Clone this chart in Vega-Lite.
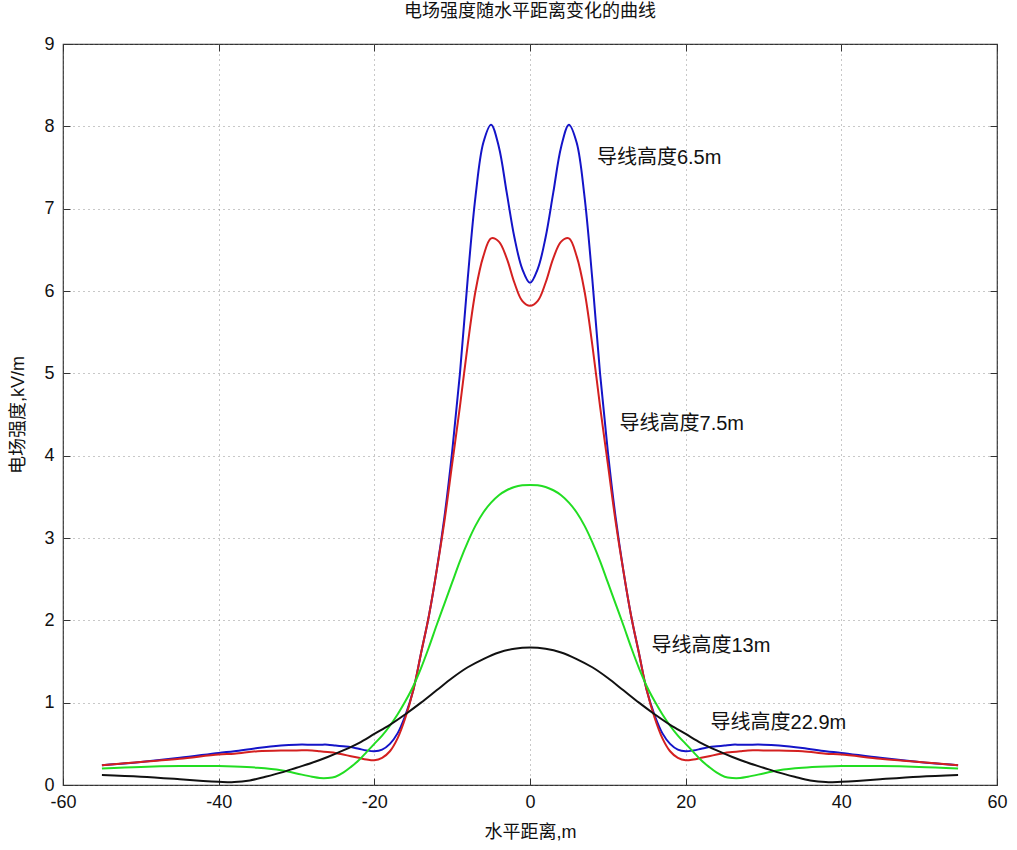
{
  "$schema": "https://vega.github.io/schema/vega-lite/v6.json",
  "autosize": "none",
  "width": 934,
  "height": 741,
  "padding": {"left": 63, "top": 44, "right": 20, "bottom": 65},
  "background": "white",
  "config": {
    "font": "Liberation Sans, Noto Sans CJK SC",
    "view": {"stroke": "#333", "strokeWidth": 1.2}
  },
  "title": {"text": "电场强度随水平距离变化的曲线", "fontSize": 18, "fontWeight": "normal", "font": "Liberation Sans, Noto Sans CJK SC", "offset": 14, "color": "#111"},
  "datasets": {
    "curves": [
      {"x": -55, "E": 0.24, "h": "6.5m"}, {"x": -50, "E": 0.28, "h": "6.5m"}, {"x": -45, "E": 0.33, "h": "6.5m"}, {"x": -40, "E": 0.39, "h": "6.5m"}, {"x": -38, "E": 0.41, "h": "6.5m"}, {"x": -35, "E": 0.45, "h": "6.5m"}, {"x": -32, "E": 0.48, "h": "6.5m"}, {"x": -30, "E": 0.49, "h": "6.5m"}, {"x": -28, "E": 0.49, "h": "6.5m"}, {"x": -27, "E": 0.49, "h": "6.5m"}, {"x": -26, "E": 0.49, "h": "6.5m"}, {"x": -25, "E": 0.48, "h": "6.5m"}, {"x": -24, "E": 0.47, "h": "6.5m"}, {"x": -23, "E": 0.46, "h": "6.5m"}, {"x": -22, "E": 0.44, "h": "6.5m"}, {"x": -21, "E": 0.42, "h": "6.5m"}, {"x": -20, "E": 0.41, "h": "6.5m"}, {"x": -19, "E": 0.43, "h": "6.5m"}, {"x": -18, "E": 0.5, "h": "6.5m"}, {"x": -17, "E": 0.63, "h": "6.5m"}, {"x": -16, "E": 0.85, "h": "6.5m"}, {"x": -15, "E": 1.15, "h": "6.5m"}, {"x": -14, "E": 1.6, "h": "6.5m"}, {"x": -13, "E": 2.05, "h": "6.5m"}, {"x": -12, "E": 2.6, "h": "6.5m"}, {"x": -11, "E": 3.25, "h": "6.5m"}, {"x": -10, "E": 4.05, "h": "6.5m"}, {"x": -9, "E": 5.0, "h": "6.5m"}, {"x": -8, "E": 6.15, "h": "6.5m"}, {"x": -7, "E": 7.15, "h": "6.5m"}, {"x": -6, "E": 7.8, "h": "6.5m"}, {"x": -5, "E": 8.02, "h": "6.5m"}, {"x": -4, "E": 7.75, "h": "6.5m"}, {"x": -3, "E": 7.2, "h": "6.5m"}, {"x": -2, "E": 6.65, "h": "6.5m"}, {"x": -1, "E": 6.27, "h": "6.5m"}, {"x": 0, "E": 6.1, "h": "6.5m"}, {"x": 1, "E": 6.27, "h": "6.5m"}, {"x": 2, "E": 6.65, "h": "6.5m"}, {"x": 3, "E": 7.2, "h": "6.5m"}, {"x": 4, "E": 7.75, "h": "6.5m"}, {"x": 5, "E": 8.02, "h": "6.5m"}, {"x": 6, "E": 7.8, "h": "6.5m"}, {"x": 7, "E": 7.15, "h": "6.5m"}, {"x": 8, "E": 6.15, "h": "6.5m"}, {"x": 9, "E": 5.0, "h": "6.5m"}, {"x": 10, "E": 4.05, "h": "6.5m"}, {"x": 11, "E": 3.25, "h": "6.5m"}, {"x": 12, "E": 2.6, "h": "6.5m"}, {"x": 13, "E": 2.05, "h": "6.5m"}, {"x": 14, "E": 1.6, "h": "6.5m"}, {"x": 15, "E": 1.15, "h": "6.5m"}, {"x": 16, "E": 0.85, "h": "6.5m"}, {"x": 17, "E": 0.63, "h": "6.5m"}, {"x": 18, "E": 0.5, "h": "6.5m"}, {"x": 19, "E": 0.43, "h": "6.5m"}, {"x": 20, "E": 0.41, "h": "6.5m"}, {"x": 21, "E": 0.42, "h": "6.5m"}, {"x": 22, "E": 0.44, "h": "6.5m"}, {"x": 23, "E": 0.46, "h": "6.5m"}, {"x": 24, "E": 0.47, "h": "6.5m"}, {"x": 25, "E": 0.48, "h": "6.5m"}, {"x": 26, "E": 0.49, "h": "6.5m"}, {"x": 27, "E": 0.49, "h": "6.5m"}, {"x": 28, "E": 0.49, "h": "6.5m"}, {"x": 30, "E": 0.49, "h": "6.5m"}, {"x": 32, "E": 0.48, "h": "6.5m"}, {"x": 35, "E": 0.45, "h": "6.5m"}, {"x": 38, "E": 0.41, "h": "6.5m"}, {"x": 40, "E": 0.39, "h": "6.5m"}, {"x": 45, "E": 0.33, "h": "6.5m"}, {"x": 50, "E": 0.28, "h": "6.5m"}, {"x": 55, "E": 0.24, "h": "6.5m"},

      {"x": -55, "E": 0.24, "h": "7.5m"}, {"x": -50, "E": 0.28, "h": "7.5m"}, {"x": -45, "E": 0.32, "h": "7.5m"}, {"x": -40, "E": 0.37, "h": "7.5m"}, {"x": -38, "E": 0.38, "h": "7.5m"}, {"x": -35, "E": 0.41, "h": "7.5m"}, {"x": -32, "E": 0.42, "h": "7.5m"}, {"x": -30, "E": 0.42, "h": "7.5m"}, {"x": -28, "E": 0.42, "h": "7.5m"}, {"x": -27, "E": 0.41, "h": "7.5m"}, {"x": -26, "E": 0.4, "h": "7.5m"}, {"x": -25, "E": 0.39, "h": "7.5m"}, {"x": -24, "E": 0.37, "h": "7.5m"}, {"x": -23, "E": 0.35, "h": "7.5m"}, {"x": -22, "E": 0.33, "h": "7.5m"}, {"x": -21, "E": 0.31, "h": "7.5m"}, {"x": -20, "E": 0.3, "h": "7.5m"}, {"x": -19, "E": 0.33, "h": "7.5m"}, {"x": -18, "E": 0.41, "h": "7.5m"}, {"x": -17, "E": 0.57, "h": "7.5m"}, {"x": -16, "E": 0.82, "h": "7.5m"}, {"x": -15, "E": 1.15, "h": "7.5m"}, {"x": -14, "E": 1.6, "h": "7.5m"}, {"x": -13, "E": 2.05, "h": "7.5m"}, {"x": -12, "E": 2.6, "h": "7.5m"}, {"x": -11, "E": 3.2, "h": "7.5m"}, {"x": -10, "E": 3.9, "h": "7.5m"}, {"x": -9, "E": 4.6, "h": "7.5m"}, {"x": -8, "E": 5.35, "h": "7.5m"}, {"x": -7, "E": 6.0, "h": "7.5m"}, {"x": -6, "E": 6.42, "h": "7.5m"}, {"x": -5, "E": 6.64, "h": "7.5m"}, {"x": -4, "E": 6.6, "h": "7.5m"}, {"x": -3, "E": 6.4, "h": "7.5m"}, {"x": -2, "E": 6.1, "h": "7.5m"}, {"x": -1, "E": 5.88, "h": "7.5m"}, {"x": 0, "E": 5.82, "h": "7.5m"}, {"x": 1, "E": 5.88, "h": "7.5m"}, {"x": 2, "E": 6.1, "h": "7.5m"}, {"x": 3, "E": 6.4, "h": "7.5m"}, {"x": 4, "E": 6.6, "h": "7.5m"}, {"x": 5, "E": 6.64, "h": "7.5m"}, {"x": 6, "E": 6.42, "h": "7.5m"}, {"x": 7, "E": 6.0, "h": "7.5m"}, {"x": 8, "E": 5.35, "h": "7.5m"}, {"x": 9, "E": 4.6, "h": "7.5m"}, {"x": 10, "E": 3.9, "h": "7.5m"}, {"x": 11, "E": 3.2, "h": "7.5m"}, {"x": 12, "E": 2.6, "h": "7.5m"}, {"x": 13, "E": 2.05, "h": "7.5m"}, {"x": 14, "E": 1.6, "h": "7.5m"}, {"x": 15, "E": 1.15, "h": "7.5m"}, {"x": 16, "E": 0.82, "h": "7.5m"}, {"x": 17, "E": 0.57, "h": "7.5m"}, {"x": 18, "E": 0.41, "h": "7.5m"}, {"x": 19, "E": 0.33, "h": "7.5m"}, {"x": 20, "E": 0.3, "h": "7.5m"}, {"x": 21, "E": 0.31, "h": "7.5m"}, {"x": 22, "E": 0.33, "h": "7.5m"}, {"x": 23, "E": 0.35, "h": "7.5m"}, {"x": 24, "E": 0.37, "h": "7.5m"}, {"x": 25, "E": 0.39, "h": "7.5m"}, {"x": 26, "E": 0.4, "h": "7.5m"}, {"x": 27, "E": 0.41, "h": "7.5m"}, {"x": 28, "E": 0.42, "h": "7.5m"}, {"x": 30, "E": 0.42, "h": "7.5m"}, {"x": 32, "E": 0.42, "h": "7.5m"}, {"x": 35, "E": 0.41, "h": "7.5m"}, {"x": 38, "E": 0.38, "h": "7.5m"}, {"x": 40, "E": 0.37, "h": "7.5m"}, {"x": 45, "E": 0.32, "h": "7.5m"}, {"x": 50, "E": 0.28, "h": "7.5m"}, {"x": 55, "E": 0.24, "h": "7.5m"},

      {"x": -55, "E": 0.2, "h": "13m"}, {"x": -50, "E": 0.22, "h": "13m"}, {"x": -45, "E": 0.23, "h": "13m"}, {"x": -40, "E": 0.23, "h": "13m"}, {"x": -38, "E": 0.225, "h": "13m"}, {"x": -35, "E": 0.21, "h": "13m"}, {"x": -32, "E": 0.18, "h": "13m"}, {"x": -30, "E": 0.14, "h": "13m"}, {"x": -28, "E": 0.1, "h": "13m"}, {"x": -27, "E": 0.085, "h": "13m"}, {"x": -26, "E": 0.085, "h": "13m"}, {"x": -25, "E": 0.1, "h": "13m"}, {"x": -24, "E": 0.15, "h": "13m"}, {"x": -23, "E": 0.22, "h": "13m"}, {"x": -22, "E": 0.3, "h": "13m"}, {"x": -21, "E": 0.4, "h": "13m"}, {"x": -20, "E": 0.5, "h": "13m"}, {"x": -19, "E": 0.6, "h": "13m"}, {"x": -18, "E": 0.72, "h": "13m"}, {"x": -17, "E": 0.86, "h": "13m"}, {"x": -16, "E": 1.02, "h": "13m"}, {"x": -15, "E": 1.2, "h": "13m"}, {"x": -14, "E": 1.42, "h": "13m"}, {"x": -13, "E": 1.67, "h": "13m"}, {"x": -12, "E": 1.94, "h": "13m"}, {"x": -11, "E": 2.2, "h": "13m"}, {"x": -10, "E": 2.46, "h": "13m"}, {"x": -9, "E": 2.72, "h": "13m"}, {"x": -8, "E": 2.95, "h": "13m"}, {"x": -7, "E": 3.15, "h": "13m"}, {"x": -6, "E": 3.31, "h": "13m"}, {"x": -5, "E": 3.43, "h": "13m"}, {"x": -4, "E": 3.52, "h": "13m"}, {"x": -3, "E": 3.58, "h": "13m"}, {"x": -2, "E": 3.62, "h": "13m"}, {"x": -1, "E": 3.64, "h": "13m"}, {"x": 0, "E": 3.645, "h": "13m"}, {"x": 1, "E": 3.64, "h": "13m"}, {"x": 2, "E": 3.62, "h": "13m"}, {"x": 3, "E": 3.58, "h": "13m"}, {"x": 4, "E": 3.52, "h": "13m"}, {"x": 5, "E": 3.43, "h": "13m"}, {"x": 6, "E": 3.31, "h": "13m"}, {"x": 7, "E": 3.15, "h": "13m"}, {"x": 8, "E": 2.95, "h": "13m"}, {"x": 9, "E": 2.72, "h": "13m"}, {"x": 10, "E": 2.46, "h": "13m"}, {"x": 11, "E": 2.2, "h": "13m"}, {"x": 12, "E": 1.94, "h": "13m"}, {"x": 13, "E": 1.67, "h": "13m"}, {"x": 14, "E": 1.42, "h": "13m"}, {"x": 15, "E": 1.2, "h": "13m"}, {"x": 16, "E": 1.02, "h": "13m"}, {"x": 17, "E": 0.86, "h": "13m"}, {"x": 18, "E": 0.72, "h": "13m"}, {"x": 19, "E": 0.6, "h": "13m"}, {"x": 20, "E": 0.5, "h": "13m"}, {"x": 21, "E": 0.4, "h": "13m"}, {"x": 22, "E": 0.3, "h": "13m"}, {"x": 23, "E": 0.22, "h": "13m"}, {"x": 24, "E": 0.15, "h": "13m"}, {"x": 25, "E": 0.1, "h": "13m"}, {"x": 26, "E": 0.085, "h": "13m"}, {"x": 27, "E": 0.085, "h": "13m"}, {"x": 28, "E": 0.1, "h": "13m"}, {"x": 30, "E": 0.14, "h": "13m"}, {"x": 32, "E": 0.18, "h": "13m"}, {"x": 35, "E": 0.21, "h": "13m"}, {"x": 38, "E": 0.225, "h": "13m"}, {"x": 40, "E": 0.23, "h": "13m"}, {"x": 45, "E": 0.23, "h": "13m"}, {"x": 50, "E": 0.22, "h": "13m"}, {"x": 55, "E": 0.2, "h": "13m"},

      {"x": -55, "E": 0.12, "h": "22.9m"}, {"x": -50, "E": 0.1, "h": "22.9m"}, {"x": -45, "E": 0.07, "h": "22.9m"}, {"x": -42, "E": 0.05, "h": "22.9m"}, {"x": -40, "E": 0.04, "h": "22.9m"}, {"x": -38, "E": 0.035, "h": "22.9m"}, {"x": -36, "E": 0.055, "h": "22.9m"}, {"x": -34, "E": 0.1, "h": "22.9m"}, {"x": -32, "E": 0.15, "h": "22.9m"}, {"x": -30, "E": 0.21, "h": "22.9m"}, {"x": -28, "E": 0.27, "h": "22.9m"}, {"x": -26, "E": 0.34, "h": "22.9m"}, {"x": -24, "E": 0.42, "h": "22.9m"}, {"x": -22, "E": 0.51, "h": "22.9m"}, {"x": -20, "E": 0.62, "h": "22.9m"}, {"x": -18, "E": 0.73, "h": "22.9m"}, {"x": -16, "E": 0.86, "h": "22.9m"}, {"x": -14, "E": 1.0, "h": "22.9m"}, {"x": -12, "E": 1.15, "h": "22.9m"}, {"x": -10, "E": 1.3, "h": "22.9m"}, {"x": -8, "E": 1.43, "h": "22.9m"}, {"x": -6, "E": 1.53, "h": "22.9m"}, {"x": -4, "E": 1.61, "h": "22.9m"}, {"x": -2, "E": 1.655, "h": "22.9m"}, {"x": 0, "E": 1.67, "h": "22.9m"}, {"x": 2, "E": 1.655, "h": "22.9m"}, {"x": 4, "E": 1.61, "h": "22.9m"}, {"x": 6, "E": 1.53, "h": "22.9m"}, {"x": 8, "E": 1.43, "h": "22.9m"}, {"x": 10, "E": 1.3, "h": "22.9m"}, {"x": 12, "E": 1.15, "h": "22.9m"}, {"x": 14, "E": 1.0, "h": "22.9m"}, {"x": 16, "E": 0.86, "h": "22.9m"}, {"x": 18, "E": 0.73, "h": "22.9m"}, {"x": 20, "E": 0.62, "h": "22.9m"}, {"x": 22, "E": 0.51, "h": "22.9m"}, {"x": 24, "E": 0.42, "h": "22.9m"}, {"x": 26, "E": 0.34, "h": "22.9m"}, {"x": 28, "E": 0.27, "h": "22.9m"}, {"x": 30, "E": 0.21, "h": "22.9m"}, {"x": 32, "E": 0.15, "h": "22.9m"}, {"x": 34, "E": 0.1, "h": "22.9m"}, {"x": 36, "E": 0.055, "h": "22.9m"}, {"x": 38, "E": 0.035, "h": "22.9m"}, {"x": 40, "E": 0.04, "h": "22.9m"}, {"x": 42, "E": 0.05, "h": "22.9m"}, {"x": 45, "E": 0.07, "h": "22.9m"}, {"x": 50, "E": 0.1, "h": "22.9m"}, {"x": 55, "E": 0.12, "h": "22.9m"}
    ],
    "labels": [
      {"x": 8.6, "E": 7.62, "label": "导线高度6.5m"},
      {"x": 11.5, "E": 4.39, "label": "导线高度7.5m"},
      {"x": 15.6, "E": 1.69, "label": "导线高度13m"},
      {"x": 23.2, "E": 0.75, "label": "导线高度22.9m"}
    ]
  },
  "layer": [
    {
      "data": {"name": "curves"},
      "mark": {"type": "line", "strokeWidth": 2, "interpolate": "catmull-rom", "clip": true},
      "encoding": {
        "x": {"field": "x", "type": "quantitative", "scale": {"domain": [-60, 60], "nice": false, "zero": false},
          "axis": {"orient": "bottom", "values": [-60, -40, -20, 0, 20, 40, 60], "labelExpr": "'' + datum.value", "title": "水平距离,m", "titleFontSize": 18, "titleFontWeight": "normal", "titleColor": "#111", "titlePadding": 12,
            "labelFontSize": 18, "labelColor": "#111", "labelPadding": 15, "tickSize": -7, "tickColor": "#333", "domain": false,
            "grid": true, "gridDash": [1, 4], "gridColor": "#777", "gridOpacity": 0.8, "labelFlush": false}},
        "y": {"field": "E", "type": "quantitative", "scale": {"domain": [0, 9], "nice": false},
          "axis": {"orient": "left", "values": [0, 1, 2, 3, 4, 5, 6, 7, 8, 9], "title": "电场强度,kV/m", "titleFontSize": 18, "titleFontWeight": "normal", "titleColor": "#111", "titlePadding": 16,
            "labelFontSize": 18, "labelColor": "#111", "labelPadding": 16, "tickSize": -7, "tickColor": "#333", "domain": false,
            "grid": true, "gridDash": [1, 4], "gridColor": "#777", "gridOpacity": 0.8, "labelFlush": false}},
        "color": {"field": "h", "type": "nominal", "legend": null,
          "scale": {"domain": ["6.5m", "7.5m", "13m", "22.9m"], "range": ["#1414c8", "#d42020", "#22dd22", "#111111"]}},
        "order": {"field": "x", "type": "quantitative"}
      }
    },
    {
      "data": {"name": "labels"},
      "mark": {"type": "text", "align": "left", "baseline": "middle", "fontSize": 20, "color": "#111", "font": "Liberation Sans, Noto Sans CJK SC"},
      "encoding": {
        "x": {"field": "x", "type": "quantitative", "scale": {"domain": [-60, 60], "nice": false, "zero": false},
          "axis": {"orient": "top", "values": [-60, -40, -20, 0, 20, 40, 60], "labels": false, "title": null, "tickSize": -7, "tickColor": "#333", "domain": false, "grid": false}},
        "y": {"field": "E", "type": "quantitative", "scale": {"domain": [0, 9], "nice": false},
          "axis": {"orient": "right", "values": [0, 1, 2, 3, 4, 5, 6, 7, 8, 9], "labels": false, "title": null, "tickSize": -7, "tickColor": "#333", "domain": false, "grid": false}},
        "text": {"field": "label"}
      }
    }
  ]
}
